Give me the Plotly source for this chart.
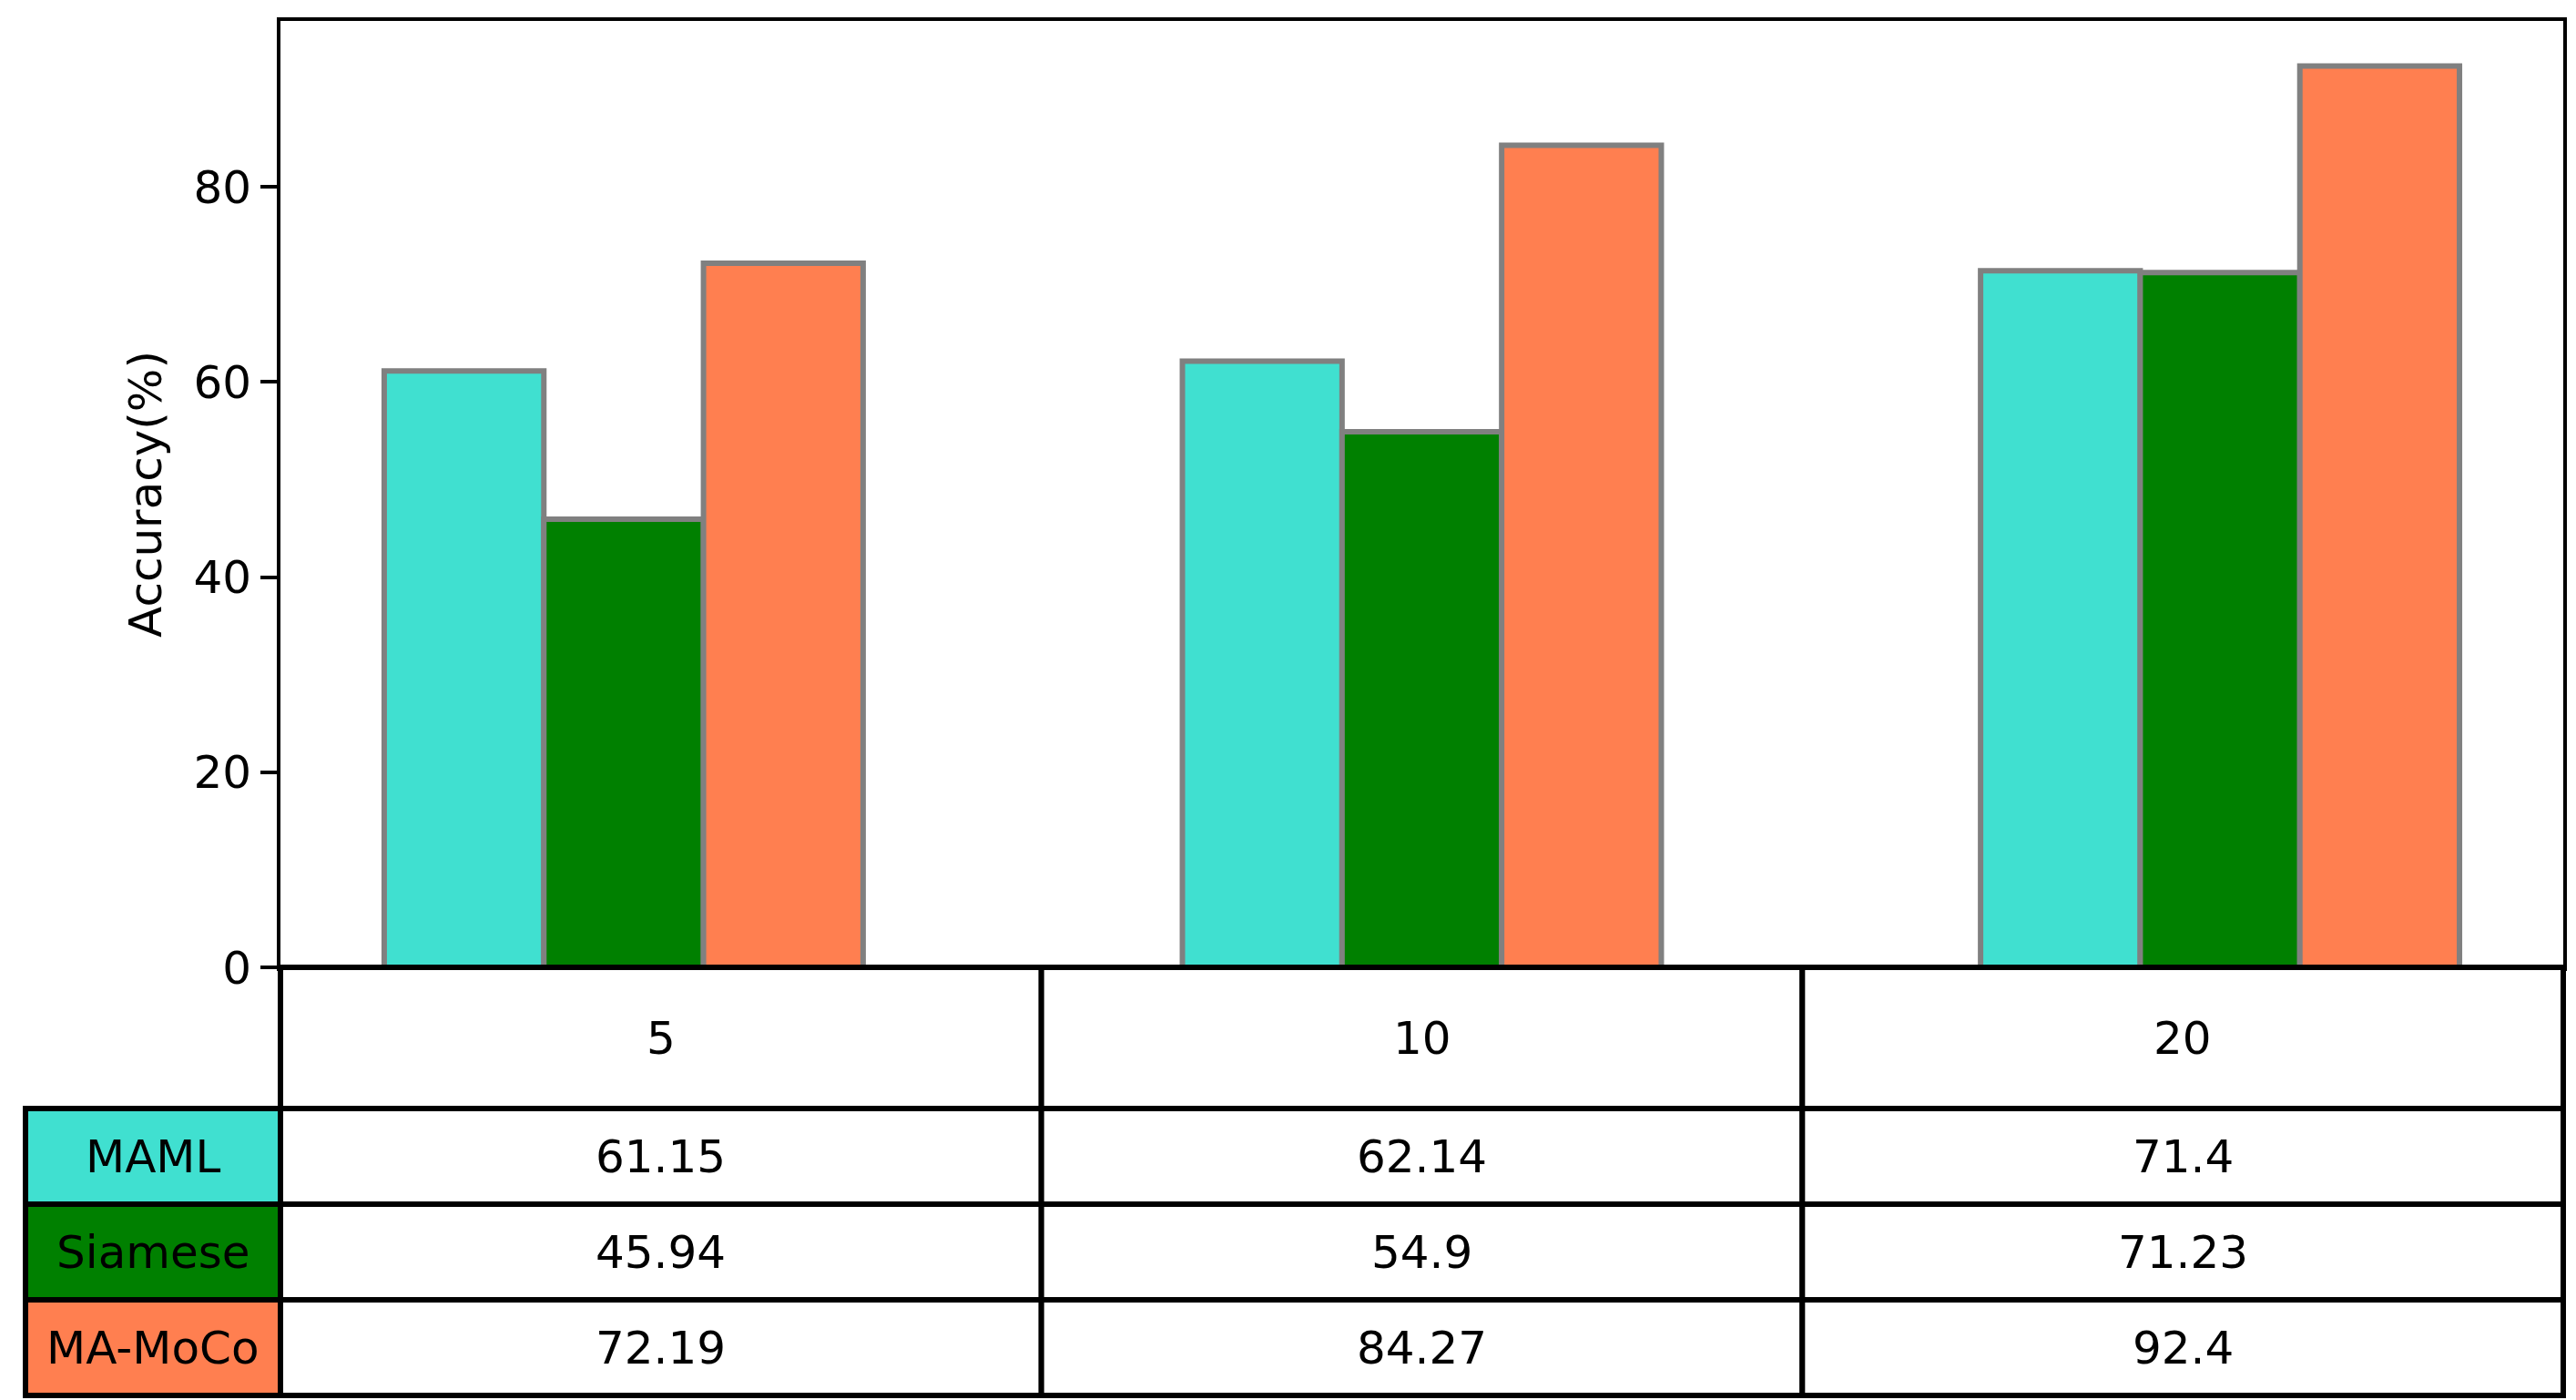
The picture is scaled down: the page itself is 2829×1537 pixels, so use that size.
import plotly.graph_objects as go

# ---- data ----
shots = ["5", "10", "20"]
methods = ["MAML", "Siamese", "MA-MoCo"]
maml = [61.15, 62.14, 71.4]
siamese = [45.94, 54.9, 71.23]
mamoco = [72.19, 84.27, 92.4]
colors = ["#40E0D0", "#008000", "#FF7F50"]
yticks = [0, 20, 40, 60, 80]

series = [maml, siamese, mamoco]

# ---- layout geometry (pixels) ----
W, H = 2829, 1537
L, R, T, B = 300, 22, 15, 483
pw = W - L - R
ph = H - T - B
header_h = 155
row_h = 105
label_left_px = 20
FONT = "DejaVu Sans"
FS = 50

fig = go.Figure()
xs = list(range(len(shots)))
for name, vals, c in zip(methods, series, colors):
    fig.add_trace(go.Bar(
        x=xs, y=vals, name=name,
        marker=dict(color=c, line=dict(color="#808080", width=6)),
        hoverinfo="y+name",
    ))

ymax = max(max(s) for s in series) * 1.05

fig.update_layout(
    width=W, height=H,
    margin=dict(l=L, r=R, t=T, b=B, pad=0),
    paper_bgcolor="white", plot_bgcolor="white",
    barmode="group", bargap=0.4, bargroupgap=0,
    showlegend=False,
    font=dict(family=FONT, size=FS, color="black"),
)
fig.update_xaxes(
    range=[-0.43, len(shots) - 1 + 0.43],
    showticklabels=False, ticks="", showgrid=False, zeroline=False,
    showline=True, mirror=True, linecolor="black", linewidth=4,
)
fig.update_yaxes(
    range=[0, ymax], tickvals=yticks, ticktext=[str(v) for v in yticks],
    ticks="outside", ticklen=18, tickwidth=4, tickcolor="black",
    tickfont=dict(family=FONT, size=FS, color="black"),
    showgrid=False, zeroline=False,
    showline=True, mirror=True, linecolor="black", linewidth=4,
    title=dict(text="Accuracy(%)", font=dict(family=FONT, size=FS, color="black"), standoff=20),
)

def py(px_below):
    """pixel offset below plot bottom -> paper y"""
    return -px_below / ph

ncol = len(shots)
x_label_left = (label_left_px - L) / pw
LW = 6

shapes = []
annotations = []

def cell(x0, x1, y0, y1, fill, text):
    shapes.append(dict(type="rect", xref="paper", yref="paper", x0=x0, x1=x1, y0=y0, y1=y1,
                       fillcolor=fill, line=dict(color="black", width=LW), layer="above"))
    annotations.append(dict(xref="paper", yref="paper", x=(x0 + x1) / 2, y=(y0 + y1) / 2,
                            text=text, showarrow=False, xanchor="center", yanchor="middle",
                            font=dict(family=FONT, size=FS, color="black")))

# header row
for j, s in enumerate(shots):
    cell(j / ncol, (j + 1) / ncol, py(header_h), py(0), "white", s)

# data rows
for i, (name, vals, c) in enumerate(zip(methods, series, colors)):
    y1 = py(header_h + i * row_h)
    y0 = py(header_h + (i + 1) * row_h)
    cell(x_label_left, 0, y0, y1, c, name)
    for j, v in enumerate(vals):
        cell(j / ncol, (j + 1) / ncol, y0, y1, "white", f"{v:g}")

fig.update_layout(shapes=shapes, annotations=annotations)

fig.write_html("out.html")
